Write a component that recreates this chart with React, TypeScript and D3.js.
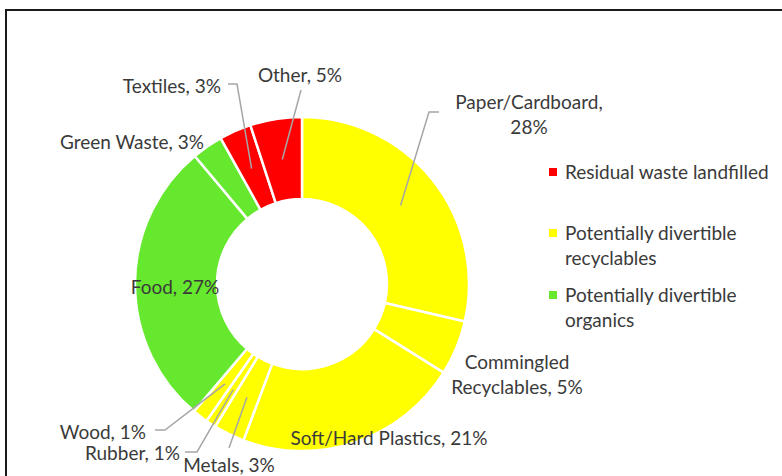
import { useMemo } from 'react';
import * as d3 from 'd3';

// slices, clockwise from 12 o'clock
const categories = [
  'Paper/Cardboard', 'Commingled Recyclables', 'Soft/Hard Plastics', 'Metals', 'Rubber',
  'Wood', 'Food', 'Green Waste', 'Textiles', 'Other',
];
const shares = [28.6, 5.3, 21.8, 3.0, 1.0, 1.5, 27.7, 3.0, 3.1, 5.0];
const shareLabels = [28, 5, 21, 3, 1, 1, 27, 3, 3, 5];
const groups = ['recyclables', 'recyclables', 'recyclables', 'recyclables', 'recyclables',
  'recyclables', 'organics', 'organics', 'residual', 'residual'];

const legendKeys = ['residual', 'recyclables', 'organics'];
const legendNames = [['Residual waste landfilled'], ['Potentially divertible', 'recyclables'], ['Potentially divertible', 'organics']];

const groupColors: Record<string, string> = {
  residual: '#ff0000',
  recyclables: '#ffff00',
  organics: '#66e82e',
};

// hand placed label boxes (Excel lets you drag them around)
type LabelPos = { lines: string[]; x: number; y: number; anchor: string; leader?: [number, number][] };
const labelLayout: LabelPos[] = [
  { lines: ['Paper/Cardboard,', '28%'], x: 529, y: 109, anchor: 'middle', leader: [[439, 112], [429, 112]] },
  { lines: ['Commingled', 'Recyclables, 5%'], x: 517, y: 369, anchor: 'middle' },
  { lines: ['Soft/Hard Plastics, 21%'], x: 389, y: 445, anchor: 'middle' },
  { lines: ['Metals, 3%'], x: 229, y: 472, anchor: 'middle', leader: [[229, 448]] },
  { lines: ['Rubber, 1%'], x: 180, y: 460, anchor: 'end', leader: [[185, 452], [197, 452]] },
  { lines: ['Wood, 1%'], x: 146, y: 439, anchor: 'end', leader: [[155, 430], [165, 430]] },
  { lines: ['Food, 27%'], x: 175, y: 294, anchor: 'middle' },
  { lines: ['Green Waste, 3%'], x: 204, y: 149, anchor: 'end' },
  { lines: ['Textiles, 3%'], x: 221, y: 93, anchor: 'end', leader: [[228, 84], [237, 84]] },
  { lines: ['Other, 5%'], x: 300, y: 82, anchor: 'middle', leader: [[301, 90]] },
];

const W = 782;
const H = 476;
const cx = 302;
const cy = 284;
const outerR = 167;
const innerR = 85;
const font = 'Lato, "Noto Sans", sans-serif';
const fontSize = 19;
const textColor = '#3a3a3a';

export default function App() {
  const arcs = useMemo(() => {
    const pie = d3.pie<number>().sort(null).value((d) => d);
    return pie(shares);
  }, []);

  const arc = d3.arc<d3.PieArcDatum<number>>().innerRadius(innerR).outerRadius(outerR);
  const line = d3.line();

  return (
    <svg width={W} height={H} style={{ position: 'absolute', left: 0, top: 0, display: 'block' }} fontFamily={font}>
      <rect x={0} y={0} width={W} height={H} fill="#fff" />
      <rect x={6} y={10} width={W + 20} height={H + 20} fill="none" stroke="#1a1a1a" strokeWidth={2} />

      <g transform={`translate(${cx},${cy})`}>
        {arcs.map((a, i) => (
          <path key={categories[i]} d={arc(a) || ''} fill={groupColors[groups[i]]} stroke="#fff" strokeWidth={2.5} strokeLinejoin="round" />
        ))}
      </g>

      {labelLayout.map((lb, i) => {
        const [mx, my] = arc.centroid(arcs[i]);
        const pts: [number, number][] = lb.leader ? [...lb.leader, [cx + mx, cy + my]] : [];
        return (
          <g key={'lb' + i}>
            {lb.leader && <path d={line(pts) || ''} fill="none" stroke="#a6a6a6" strokeWidth={1.5} />}
            <text x={lb.x} y={lb.y} textAnchor={lb.anchor} fontSize={fontSize} fill={textColor}>
              {lb.lines.map((t, j) => (
                <tspan key={j} x={lb.x} dy={j === 0 ? 0 : 25}>{t}</tspan>
              ))}
            </text>
          </g>
        );
      })}

      {legendKeys.map((k, i) => {
        const top = [172, 233, 295][i];
        return (
          <g key={k}>
            <rect x={549} y={top - 4} width={8} height={8} fill={groupColors[k]} />
            <text x={565} y={top + 6.5} fontSize={fontSize} fill={textColor}>
              {legendNames[i].map((t, j) => (
                <tspan key={j} x={565} dy={j === 0 ? 0 : 25}>{t}</tspan>
              ))}
            </text>
          </g>
        );
      })}
    </svg>
  );
}
